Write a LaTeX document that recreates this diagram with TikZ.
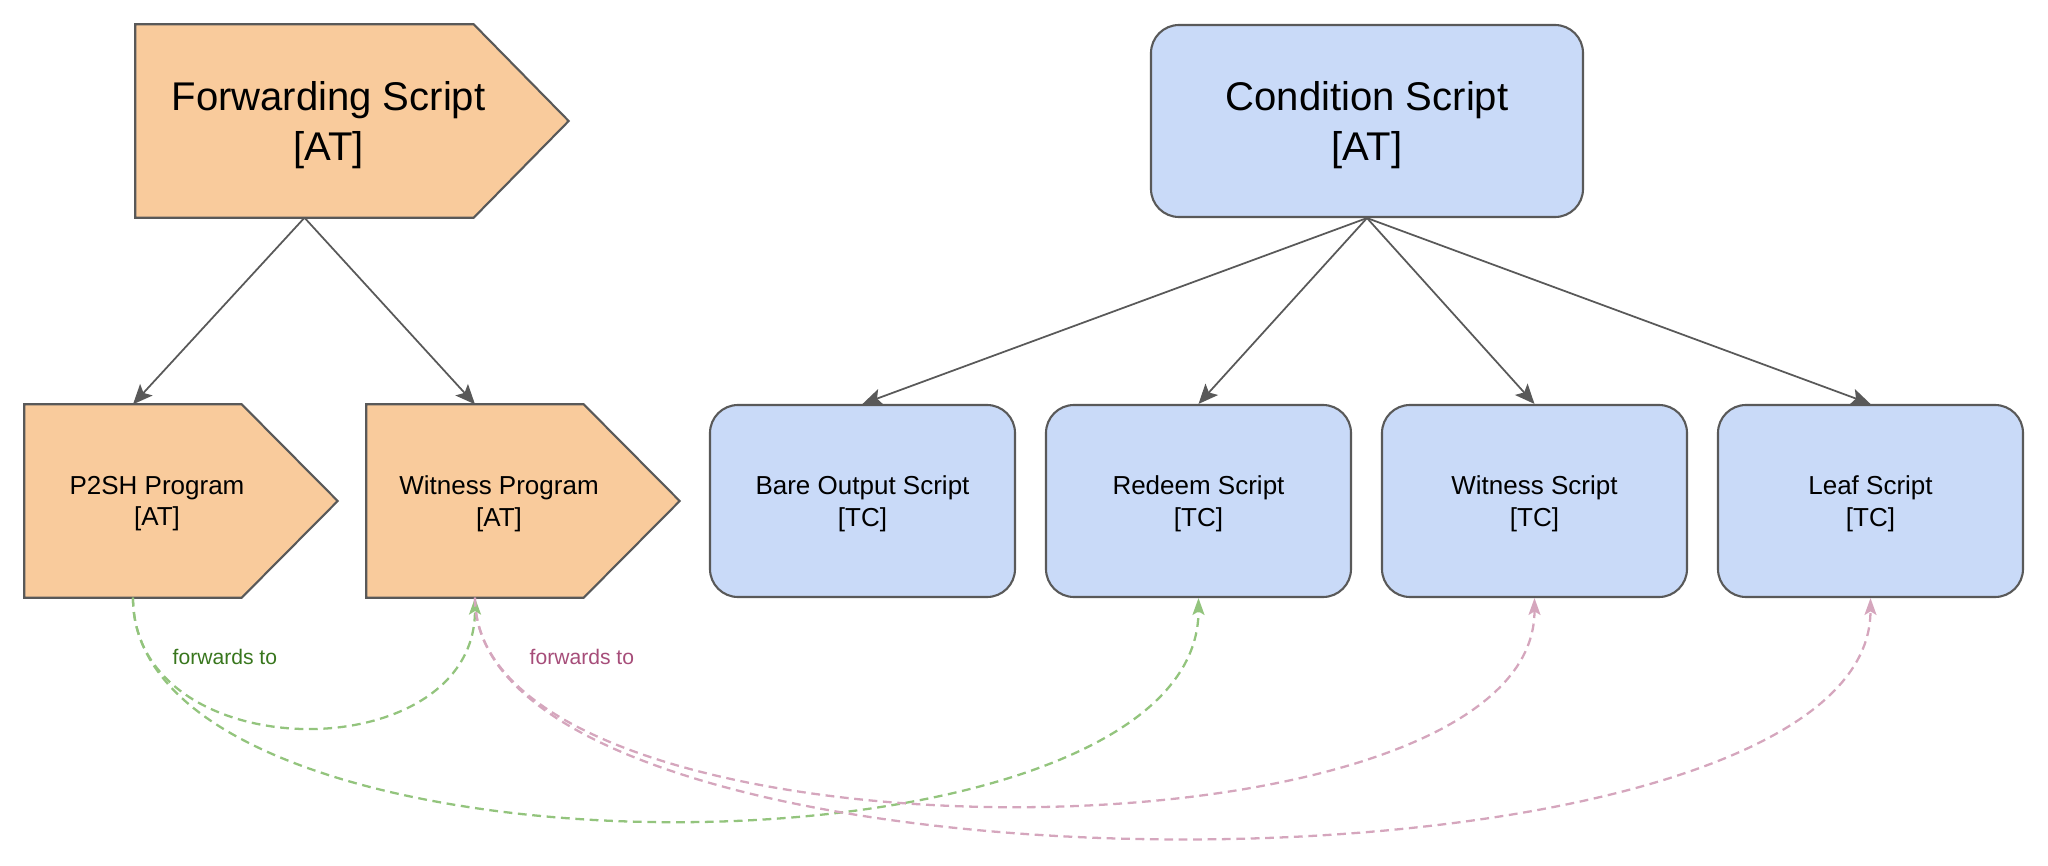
\documentclass[tikz,border=0pt]{standalone}
\usepackage{fontspec}
\setmainfont{Liberation Sans}
\usetikzlibrary{arrows.meta}

\definecolor{ofill}{HTML}{F9CB9C}
\definecolor{bfill}{HTML}{C9DAF8}
\definecolor{linegray}{HTML}{595959}
\definecolor{gline}{HTML}{93C47D}
\definecolor{gtext}{HTML}{38761D}
\definecolor{pline}{HTML}{D5A6BD}
\definecolor{ptext}{HTML}{A64D79}

\begin{document}
\begin{tikzpicture}[
	tagbox/.style= {rectangle, minimum height= 1.92cm, inner sep= 0pt},
	tagshape/.style= {fill= ofill, draw= linegray, line width= 0.6pt},
	scriptbox/.style= {rectangle, rounded corners= 0.28cm, fill= bfill, draw= linegray, line width= 0.6pt, minimum height= 1.92cm},
	bigtxt/.style= {align= center, text depth= 0pt, font= \fontsize{11.4}{14.1}\selectfont},
	midtxt/.style= {align= center, text depth= 0pt, font= \fontsize{7.4}{9.0}\selectfont},
	labtxt/.style= {anchor= west, inner sep= 0pt, font= \fontsize{6}{7.2}\selectfont},
	treearrow/.style= {draw= linegray, line width= 0.5pt, -{Stealth[length= 5.6pt, width= 4.8pt, inset= 1.2pt]}},
	fwdarrow/.style= {line width= 0.65pt, dash pattern= on 2.5pt off 1.6pt, -{Stealth[length= 4.8pt, width= 3.4pt, inset= 1pt]}}
]
	\useasboundingbox (0, 0) rectangle (20.48, -8.66);

	\node[tagbox, minimum width= 3.37cm] (fwd) at (3.045, -1.21) {}; %上段左
	\node[scriptbox, bigtxt, minimum width= 4.32cm] (cond) at (13.67, -1.21) {Condition Script\\{[AT]}}; %上段右

	\node[tagbox, minimum width= 2.16cm] (p2sh) at (1.33, -5.01) {}; %下段
	\node[tagbox, minimum width= 2.16cm] (wp) at (4.75, -5.01) {};
	\node[scriptbox, midtxt, minimum width= 3.05cm] (bare) at (8.625, -5.01) {Bare Output Script\\{[TC]}};
	\node[scriptbox, midtxt, minimum width= 3.05cm] (redeem) at (11.985, -5.01) {Redeem Script\\{[TC]}};
	\node[scriptbox, midtxt, minimum width= 3.05cm] (witness) at (15.345, -5.01) {Witness Script\\{[TC]}};
	\node[scriptbox, midtxt, minimum width= 3.05cm] (leaf) at (18.705, -5.01) {Leaf Script\\{[TC]}};

	\draw[tagshape](fwd.north west)-- (fwd.north east)-- ([xshift= 0.95cm]fwd.east)-- (fwd.south east)-- (fwd.south west)-- cycle; %五角形
	\draw[tagshape](p2sh.north west)-- (p2sh.north east)-- ([xshift= 0.96cm]p2sh.east)-- (p2sh.south east)-- (p2sh.south west)-- cycle;
	\draw[tagshape](wp.north west)-- (wp.north east)-- ([xshift= 0.96cm]wp.east)-- (wp.south east)-- (wp.south west)-- cycle;

	\node[bigtxt] (fwdtxt) at ([xshift= 0.24cm]fwd.center) {Forwarding Script\\{[AT]}};
	\node[midtxt] (p2shtxt) at ([xshift= 0.24cm]p2sh.center) {P2SH Program\\{[AT]}};
	\node[midtxt] (wptxt) at ([xshift= 0.24cm]wp.center) {Witness Program\\{[AT]}};

	\draw[treearrow](fwd.south)-- (p2sh.north); %木
	\draw[treearrow](fwd.south)-- (wp.north);
	\foreach \n in {bare, redeem, witness, leaf}
		\draw[treearrow](cond.south)-- (\n.north);

	\draw[fwdarrow, gline](p2sh.south) .. controls +(0, -1.73) and +(0, -1.73) .. (wp.south); %転送
	\draw[fwdarrow, gline](p2sh.south) .. controls +(0, -2.97) and +(0, -2.97) .. (redeem.south);
	\draw[fwdarrow, pline](wp.south) .. controls +(0, -2.77) and +(0, -2.77) .. (witness.south);
	\draw[fwdarrow, pline](wp.south) .. controls +(0, -3.2) and +(0, -3.2) .. (leaf.south);

	\node[labtxt, text= gtext] (glab) at (1.72, -6.57) {forwards to};
	\node[labtxt, text= ptext] (plab) at (5.29, -6.57) {forwards to};
\end{tikzpicture}
\end{document}
